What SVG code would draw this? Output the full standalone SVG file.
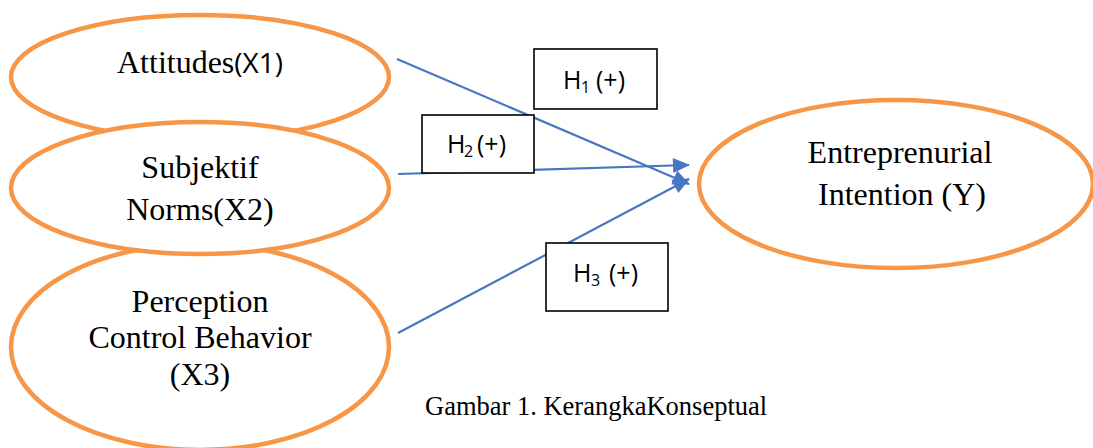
<svg xmlns="http://www.w3.org/2000/svg" width="1093" height="448" viewBox="0 0 1093 448">
  <style>
    .node { fill: #ffffff; stroke: #f79646; stroke-width: 4.5; }
    .label { font-family: "Liberation Serif", "Times New Roman", serif; font-size: 32px; fill: #000000; text-anchor: middle; }
    .sans { font-family: "Open Sans", "Liberation Sans", sans-serif; }
    .link { stroke: #4677c0; stroke-width: 2.2; fill: none; marker-end: url(#arrow); }
    .hyp rect { fill: #ffffff; stroke: #000000; stroke-width: 1.6; }
    .hyp text { font-family: "Open Sans", "Liberation Sans", sans-serif; font-size: 25px; fill: #000000; }
    .sub { font-size: 16px; }
    .caption { font-family: "Liberation Serif", "Times New Roman", serif; font-size: 26.5px; fill: #000000; }
  </style>
  <defs>
    <marker id="arrow" markerUnits="userSpaceOnUse" markerWidth="17" markerHeight="15" refX="16" refY="7.5" orient="auto" overflow="visible">
      <path d="M0,0 L17,7.5 L0,15 z" fill="#4677c0"/>
    </marker>
  </defs>

  <rect width="1093" height="448" fill="#ffffff"/>

  <!-- X1 -->
  <g id="node-x1">
    <ellipse class="node" cx="200" cy="77" rx="189" ry="62"/>
    <text class="label" x="200" y="73">Attitudes<tspan class="sans" font-size="28">(X1)</tspan></text>
  </g>

  <!-- X3 (drawn before X2 so X2 overlaps it) -->
  <g id="node-x3">
    <ellipse class="node" cx="200" cy="347" rx="189" ry="103"/>
    <text class="label" x="200" y="312">Perception</text>
    <text class="label" x="200" y="348">Control Behavior</text>
    <text class="label" x="200" y="385">(X3)</text>
  </g>

  <!-- X2 -->
  <g id="node-x2">
    <ellipse class="node" cx="200" cy="188" rx="189" ry="66"/>
    <text class="label" x="200" y="178">Subjektif</text>
    <text class="label" x="200" y="220">Norms(X2)</text>
  </g>

  <!-- Y -->
  <g id="node-y">
    <ellipse class="node" cx="896" cy="184" rx="197" ry="84"/>
    <text class="label" x="900" y="163">Entreprenurial</text>
    <text class="label" x="902" y="205">Intention (Y)</text>
  </g>

  <!-- paths from each construct to the intention -->
  <g id="connectors">
    <line class="link" x1="397" y1="59" x2="689" y2="184"/>
    <line class="link" x1="398" y1="174" x2="689" y2="165"/>
    <line class="link" x1="398" y1="333" x2="689" y2="179"/>
  </g>

  <!-- hypothesis labels -->
  <g id="h1" class="hyp">
    <rect x="534" y="49" width="123" height="60"/>
    <text y="89"><tspan x="563">H</tspan><tspan class="sub" x="581" dy="4">1</tspan><tspan x="596" dy="-4">(+)</tspan></text>
  </g>
  <g id="h2" class="hyp">
    <rect x="422" y="115" width="112" height="58"/>
    <text y="153"><tspan x="447">H</tspan><tspan class="sub" x="464" dy="4">2</tspan><tspan x="477" dy="-4">(+)</tspan></text>
  </g>
  <g id="h3" class="hyp">
    <rect x="546" y="243" width="122" height="68"/>
    <text y="282"><tspan x="573">H</tspan><tspan class="sub" x="591" dy="4">3</tspan><tspan x="609" dy="-4">(+)</tspan></text>
  </g>

  <text class="caption" x="425" y="415">Gambar 1. KerangkaKonseptual</text>
</svg>
